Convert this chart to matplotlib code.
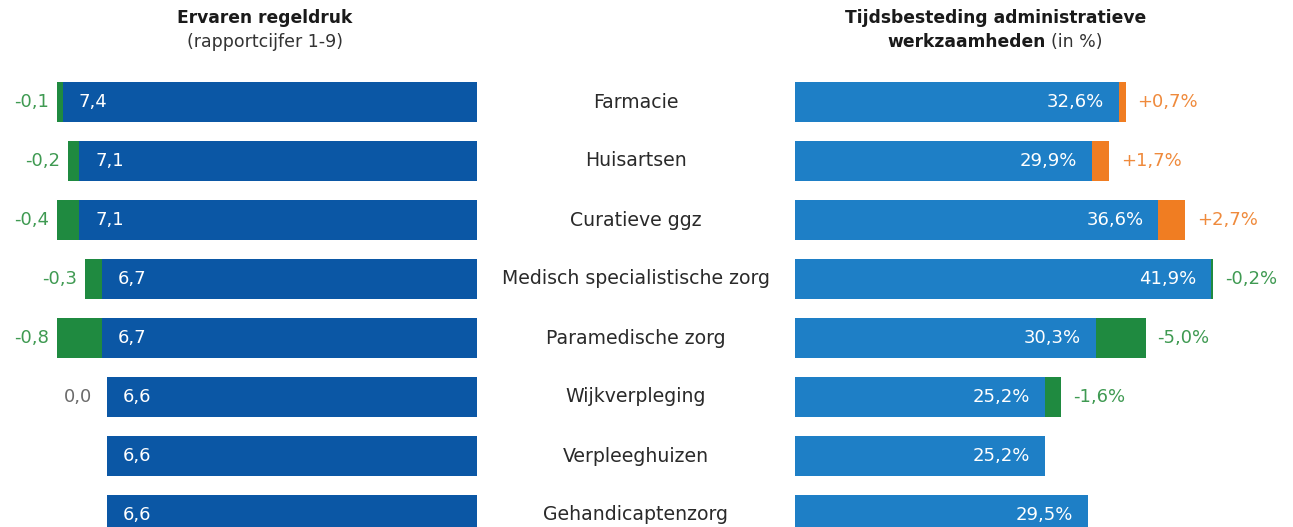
import numpy as np
import matplotlib
matplotlib.use("Agg")
from matplotlib import pyplot as plt
from matplotlib import transforms

categories = ["Farmacie", "Huisartsen", "Curatieve ggz",
              "Medisch specialistische zorg", "Paramedische zorg",
              "Wijkverpleging", "Verpleeghuizen", "Gehandicaptenzorg"]

regeldruk = [7.4, 7.1, 7.1, 6.7, 6.7, 6.6, 6.6, 6.6]
regeldruk_change = [-0.1, -0.2, -0.4, -0.3, -0.8, 0.0, None, None]

admin_pct = [32.6, 29.9, 36.6, 41.9, 30.3, 25.2, 25.2, 29.5]
admin_change = [0.7, 1.7, 2.7, -0.2, -5.0, -1.6, None, None]

DARK_BLUE = "#0b57a5"
LIGHT_BLUE = "#1e7fc6"
GREEN = "#1f8a40"
GREEN_TXT = "#3f9a52"
ORANGE = "#f07d22"
ORANGE_TXT = "#ef8a3c"
GREY_TXT = "#6b6b6b"

plt.rcParams['font.family'] = ['DejaVu Sans']

W, H = 1293, 527
fig = plt.figure(figsize=(W / 100, H / 100), dpi=100)

# vertical layout: row centers at 102 + 59*i px from top
row0, step = 102, 59
top_px = 70
y_top = (top_px - row0) / step
y_bot = (H - row0) / step
ax_h = (H - top_px) / H

y = np.arange(len(categories))
bar_h = 0.68
fs = 13

# left panel, bars grow to the left from x=477 px
left_px = 477
px_per_unit_l = 56.0
ax_l = fig.add_axes([0, 0, left_px / W, ax_h])
ax_l.set_xlim(left_px / px_per_unit_l, 0)
ax_l.set_ylim(y_bot, y_top)
ax_l.barh(y, regeldruk, height=bar_h, color=DARK_BLUE)
for i, (v, c) in enumerate(zip(regeldruk, regeldruk_change)):
    ax_l.text(v - 0.28, i, f"{v:.1f}".replace(".", ","), color="white",
              fontsize=fs, va="center", ha="left")
    if c is None:
        continue
    if c < 0:
        ax_l.barh(i, -c, left=v, height=bar_h, color=GREEN)
        ax_l.text(v - c + 0.14, i, f"{c:.1f}".replace(".", ","),
                  color=GREEN_TXT, fontsize=fs, va="center", ha="right")
    else:
        ax_l.text(v + 0.27, i, f"{c:.1f}".replace(".", ","),
                  color=GREY_TXT, fontsize=fs, va="center", ha="right")
ax_l.axis("off")

# right panel, bars grow to the right from x=795 px
right_px = 795
px_per_unit_r = 9.93
ax_r = fig.add_axes([right_px / W, 0, (W - right_px) / W, ax_h])
ax_r.set_xlim(0, (W - right_px) / px_per_unit_r)
ax_r.set_ylim(y_bot, y_top)
ax_r.barh(y, admin_pct, height=bar_h, color=LIGHT_BLUE)
for i, (v, c) in enumerate(zip(admin_pct, admin_change)):
    ax_r.text(v - 1.5, i, f"{v:.1f}%".replace(".", ","), color="white",
              fontsize=fs, va="center", ha="right")
    if c is None:
        continue
    seg = abs(c)
    col = ORANGE if c > 0 else GREEN
    tcol = ORANGE_TXT if c > 0 else GREEN_TXT
    ax_r.barh(i, seg, left=v, height=bar_h, color=col)
    lab = ("+" if c > 0 else "") + f"{c:.1f}%".replace(".", ",")
    ax_r.text(v + seg + 1.2, i, lab, color=tcol, fontsize=fs,
              va="center", ha="left")
ax_r.axis("off")

# category labels in the middle
tr = transforms.blended_transform_factory(fig.transFigure, ax_l.transData)
for i, cat in enumerate(categories):
    ax_l.text(636 / W, i, cat, transform=tr, ha="center", va="center",
              fontsize=13.6, color="#2a2a2a", clip_on=False)

# titles
fig.text(265 / W, 1 - 18 / H, "Ervaren regeldruk", ha="center", va="center",
         fontsize=12.3, fontweight="bold", color="#1a1a1a")
fig.text(265 / W, 1 - 42 / H, "(rapportcijfer 1-9)", ha="center", va="center",
         fontsize=12.5, color="#333333")
fig.text(996 / W, 1 - 18 / H, "Tijdsbesteding administratieve", ha="center",
         va="center", fontsize=12.3, fontweight="bold", color="#1a1a1a")
fig.text(1046 / W, 1 - 42 / H, "werkzaamheden", ha="right", va="center",
         fontsize=12.3, fontweight="bold", color="#1a1a1a")
fig.text(1051 / W, 1 - 42 / H, "(in %)", ha="left", va="center",
         fontsize=12.5, color="#333333")

fig.savefig("out.png", dpi=100)
